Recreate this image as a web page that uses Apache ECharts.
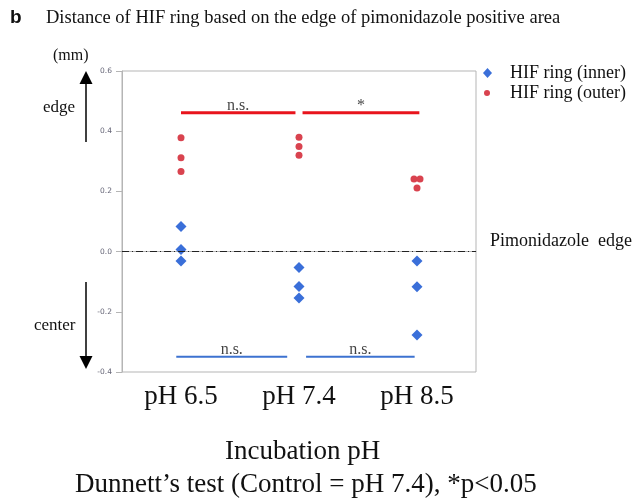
<!DOCTYPE html>
<html>
<head>
<meta charset="utf-8">
<script src="https://cdn.jsdelivr.net/npm/echarts@6/dist/echarts.min.js"></script>
<style>
  html, body { margin: 0; padding: 0; background: #fff; }
  #chart { width: 633px; height: 500px; }
</style>
</head>
<body>
<div id="chart"></div>
<script>
// categories and values
const categories = ['pH 6.5', 'pH 7.4', 'pH 8.5'];
const innerVals = [[0.083, 0.007, -0.031], [-0.053, -0.116, -0.154], [-0.031, -0.117, -0.277]];
const outerVals = [[0.378, 0.312, 0.266], [0.380, 0.349, 0.320], [0.241, 0.241, 0.211]];
const yTicks = [-0.4, -0.2, 0.0, 0.2, 0.4, 0.6];

// significance bars (x in category units, 0 = pH 6.5)
const redFrom = [0.0, 1.03];
const redTo = [0.97, 2.02];
const redY = 0.461;
const redText = ['n.s.', '*'];
const blueFrom = [-0.04, 1.06];
const blueTo = [0.90, 1.98];
const blueY = -0.349;
const blueText = ['n.s.', 'n.s.'];

const SERIF = '"Liberation Serif", "DejaVu Serif", serif';
const BLUE = '#3a6fd9';
const RED = '#d9434f';

// two outer points at pH 8.5 sit side by side
const jitter = { '2-0': -3, '2-1': 3 };

function pts(vals, useJitter) {
  const out = [];
  vals.forEach((arr, ci) => {
    arr.forEach((v, k) => {
      const d = { value: [categories[ci], v] };
      if (useJitter && jitter[ci + '-' + k]) d.symbolOffset = [jitter[ci + '-' + k], 0];
      out.push(d);
    });
  });
  return out;
}

const series = [
  {
    name: 'HIF ring (inner)', type: 'scatter', symbol: 'diamond', symbolSize: 11,
    itemStyle: { color: BLUE, opacity: 1 },
    data: pts(innerVals, false),
    markLine: {
      silent: true, symbol: 'none', label: { show: false },
      lineStyle: { color: '#222', width: 1, type: [7, 3, 1, 3] },
      data: [{ yAxis: 0 }]
    },
    z: 3
  },
  {
    name: 'HIF ring (outer)', type: 'scatter', symbol: 'circle', symbolSize: 7,
    itemStyle: { color: RED, opacity: 1 },
    data: pts(outerVals, true),
    z: 3
  }
];

function addBars(from, to, y, texts, color, width) {
  from.forEach((f, i) => {
    series.push({
      type: 'line', xAxisIndex: 1, symbol: 'none', silent: true,
      lineStyle: { color: color, width: width },
      data: [[f, y], [to[i], y]]
    });
    series.push({
      type: 'scatter', xAxisIndex: 1, symbolSize: 0, silent: true,
      label: { show: true, position: 'top', distance: -1, formatter: texts[i],
        color: '#111', fontFamily: SERIF, fontSize: 16 },
      data: [[(f + to[i]) / 2, y]]
    });
  });
}
addBars(redFrom, redTo, redY, redText, '#e8141c', 3);
addBars(blueFrom, blueTo, blueY, blueText, '#3c72d0', 2);

const legendText = { fontFamily: SERIF, fontSize: 18, color: '#111' };

const chart = echarts.init(document.getElementById('chart'));
chart.setOption({
  animation: false,
  backgroundColor: '#fff',
  grid: { left: 122, top: 71, right: 157, bottom: 128, show: true, borderColor: '#b5b5b5', borderWidth: 1 },
  legend: [
    {
      data: [{ name: 'HIF ring (inner)', icon: 'diamond' }],
      left: 483, top: 64, padding: 0, itemWidth: 9, itemHeight: 10,
      textStyle: Object.assign({ padding: [0, 0, 0, 13] }, legendText)
    },
    {
      data: [{ name: 'HIF ring (outer)', icon: 'circle' }],
      left: 484, top: 84, padding: 0, itemWidth: 6, itemHeight: 6,
      textStyle: Object.assign({ padding: [0, 0, 0, 15] }, legendText)
    }
  ],
  xAxis: [
    {
      type: 'category', data: categories, boundaryGap: true,
      axisLine: { lineStyle: { color: '#b5b5b5' } },
      axisTick: { show: false },
      axisLabel: { fontFamily: SERIF, fontSize: 27, color: '#111', margin: 11 },
      splitLine: { show: false }
    },
    { type: 'value', min: -0.5, max: 2.5, show: false }
  ],
  yAxis: {
    type: 'value', min: yTicks[0], max: yTicks[yTicks.length - 1], interval: 0.2,
    axisLine: { show: true, onZero: false, lineStyle: { color: '#b5b5b5' } },
    axisTick: { show: true, length: 6, lineStyle: { color: '#b5b5b5' } },
    axisLabel: { fontSize: 7.5, color: '#667', margin: 10, fontFamily: '"DejaVu Sans", sans-serif',
      formatter: v => v.toFixed(1) },
    splitLine: { show: false }
  },
  graphic: [
    { type: 'text', left: 10, top: 8, style: { text: 'b', font: 'bold 19px "Liberation Sans", sans-serif', fill: '#111' } },
    { type: 'text', left: 46, top: 9, style: { text: 'Distance of HIF ring based on the edge of pimonidazole positive area', font: '18.5px ' + SERIF, fill: '#111' } },
    { type: 'text', left: 53, top: 48, style: { text: '(mm)', font: '16px ' + SERIF, fill: '#111' } },
    { type: 'text', left: 43, top: 99, style: { text: 'edge', font: '17px ' + SERIF, fill: '#111' } },
    { type: 'text', left: 34, top: 317, style: { text: 'center', font: '17px ' + SERIF, fill: '#111' } },
    { type: 'line', shape: { x1: 86, y1: 82, x2: 86, y2: 142 }, style: { stroke: '#000', lineWidth: 1.5 } },
    { type: 'polygon', shape: { points: [[86, 71], [79.5, 84], [92.5, 84]] }, style: { fill: '#000' } },
    { type: 'line', shape: { x1: 86, y1: 282, x2: 86, y2: 358 }, style: { stroke: '#000', lineWidth: 1.5 } },
    { type: 'polygon', shape: { points: [[86, 369], [79.5, 356], [92.5, 356]] }, style: { fill: '#000' } },
    { type: 'text', left: 490, top: 232, style: { text: 'Pimonidazole  edge', font: '18px ' + SERIF, fill: '#111' } },
    { type: 'text', left: 225, top: 438, style: { text: 'Incubation pH', font: '27px ' + SERIF, fill: '#111' } },
    { type: 'text', left: 75, top: 471, style: { text: 'Dunnett\u2019s test (Control = pH 7.4), *p<0.05', font: '27px ' + SERIF, fill: '#111' } }
  ],
  series: series
});
</script>
</body>
</html>
